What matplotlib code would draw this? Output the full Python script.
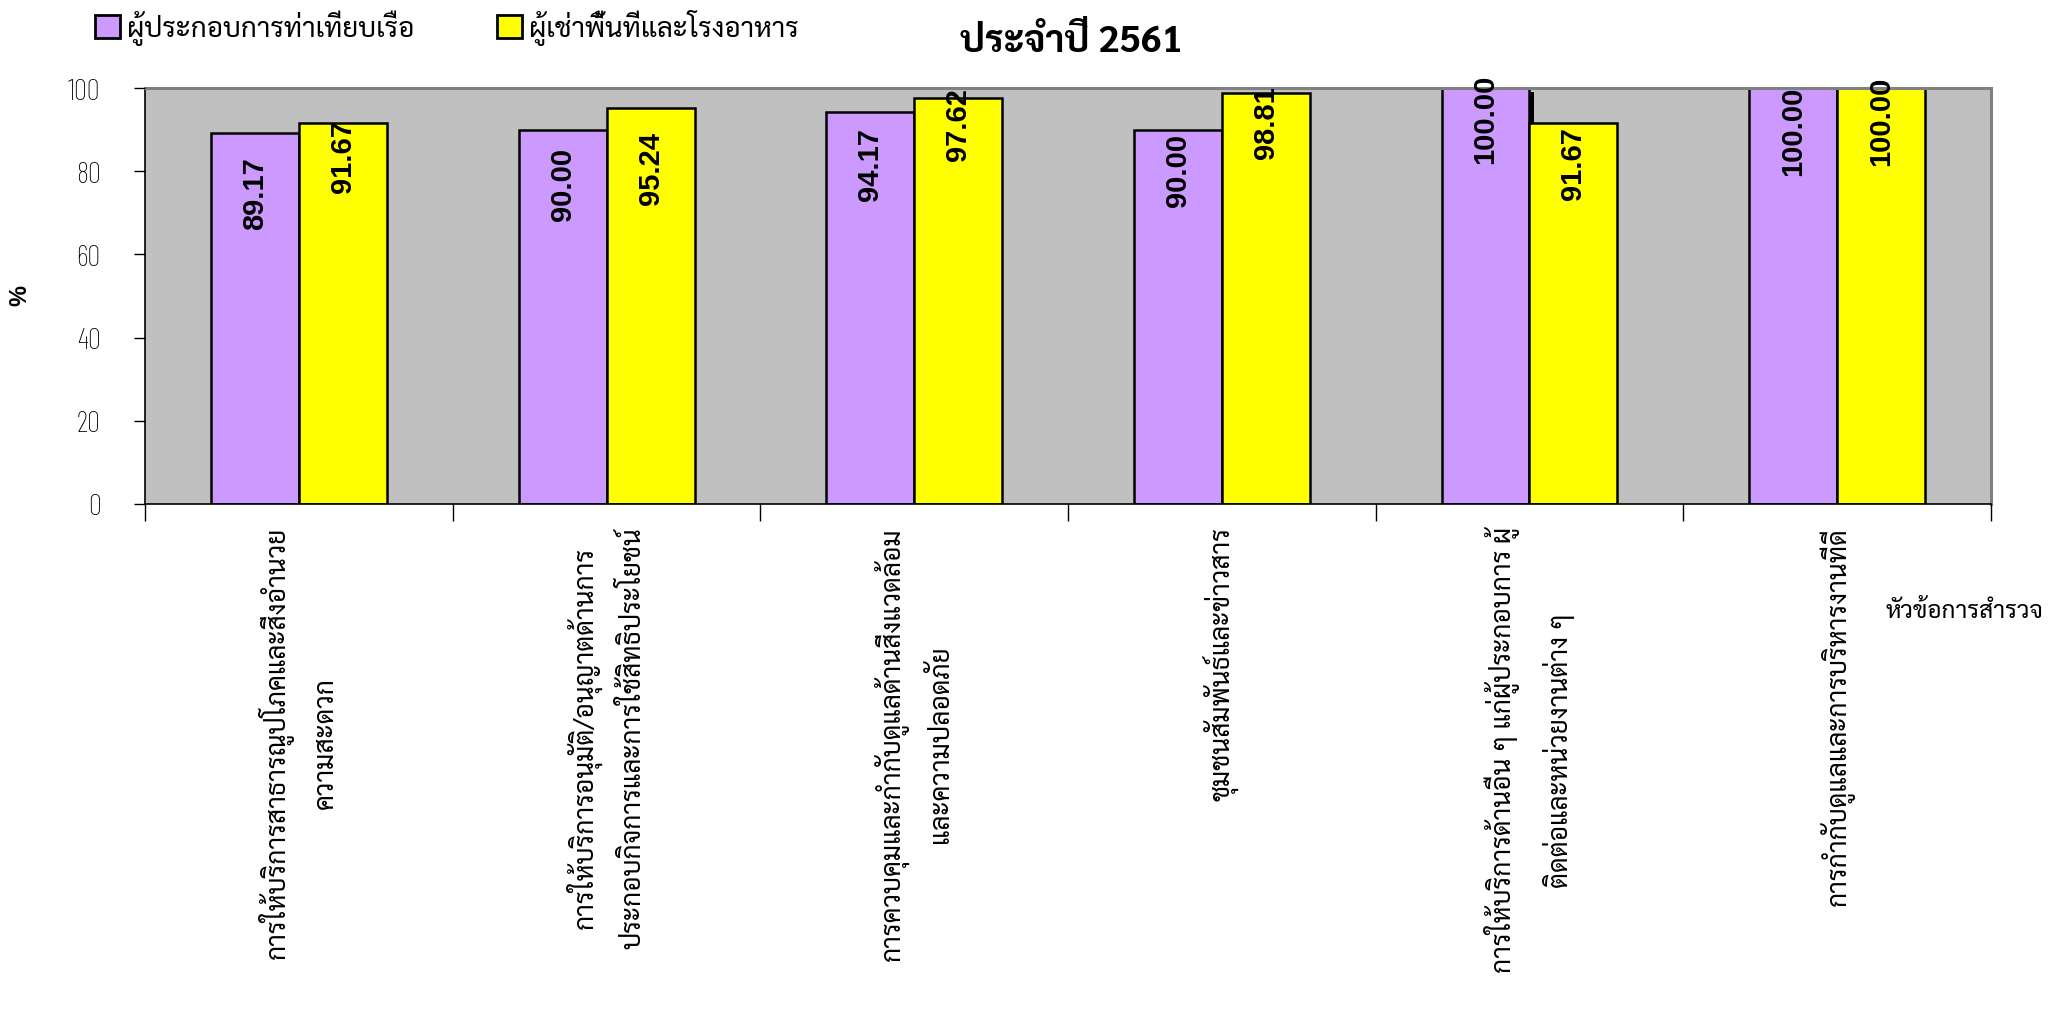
import matplotlib
matplotlib.use('Agg')
import matplotlib.pyplot as plt
import matplotlib.patheffects as pe
from matplotlib.patches import Patch
import numpy as np

# data
categories = ['การให้บริการสาธารณูปโภคและสิ่งอำนวย\nความสะดวก',
              'การให้บริการอนุมัติ/อนุญาตด้านการ\nประกอบกิจการและการใช้สิทธิประโยชน์',
              'การควบคุมและกำกับดูแลด้านสิ่งแวดล้อม\nและความปลอดภัย',
              'ชุมชนสัมพันธ์และข่าวสาร',
              'การให้บริการด้านอื่น ๆ แก่ผู้ประกอบการ ผู้\nติดต่อและหน่วยงานต่าง ๆ',
              'การกำกับดูแลและการบริหารงานที่ดี']
series_names = ['ผู้ประกอบการท่าเทียบเรือ', 'ผู้เช่าพื้นที่และโรงอาหาร']
pier = [89.17, 90.00, 94.17, 90.00, 100.00, 100.00]
tenant = [91.67, 95.24, 97.62, 98.81, 91.67, 100.00]
title = 'ประจำปี 2561'
xlabel = 'หัวข้อการสำรวจ'
ylabel = '%'

# where each value label sits relative to its bar top (px, + = above), as in the original
nudge_pier = [-23, -17, -15, -3, 14, 2]
nudge_tenant = [4, -23, 11, 8, -3, 12]

THAI = ['Sarabun', 'DejaVu Sans']
col_pier = '#CC99FF'
col_tenant = '#FFFF00'

fig = plt.figure(figsize=(20.6, 10.12), dpi=100)
ax = fig.add_axes([0.0704, 0.501, 0.8961, 0.411])
ax.set_facecolor('#C0C0C0')

x = np.arange(len(categories))
w = 0.286
b1 = ax.bar(x - w/2, pier, w, color=col_pier, edgecolor='black', linewidth=1.8)
b2 = ax.bar(x + w/2, tenant, w, color=col_tenant, edgecolor='black', linewidth=1.8)
# small drop shadow on the first series (shows only where it is taller)
shadow = [pe.SimplePatchShadow(offset=(3.5, -3), shadow_rgbFace='black', alpha=1.0), pe.Normal()]
for b in b1:
    b.set_path_effects(shadow)

# value labels, rotated, near the bar top
for bars, vals, nud in [(b1, pier, nudge_pier), (b2, tenant, nudge_tenant)]:
    for rect, v, n in zip(bars, vals, nud):
        ax.annotate(f'{v:.2f}', xy=(rect.get_x() + rect.get_width()/2, v),
                    xytext=(0, n * 0.72), textcoords='offset points',
                    rotation=90, ha='center', va='top',
                    fontsize=21, fontweight='bold', family='Liberation Sans')

ax.set_xlim(-0.5, len(categories) - 0.5)
ax.set_ylim(0, 100)
ax.set_yticks(np.arange(0, 101, 20))
ax.tick_params(axis='y', direction='out', length=8, width=1, pad=24,
               labelsize=21)
for lbl in ax.get_yticklabels():
    lbl.set_family('Barlow Condensed')
    lbl.set_fontweight('light')

# boundary ticks (major) and category labels (minor)
ax.set_xticks(np.arange(-0.5, len(categories), 1.0))
ax.set_xticklabels([])
ax.tick_params(axis='x', which='major', direction='out', length=12, width=1)
ax.set_xticks(x, minor=True)
ax.set_xticklabels(categories, minor=True, rotation=90)
ax.tick_params(axis='x', which='minor', length=0, pad=16)
for lbl in ax.get_xticklabels(minor=True):
    lbl.set_family(THAI)
    lbl.set_fontsize(19)
    lbl.set_multialignment('center')
    lbl.set_linespacing(1.9)

for s in ['top', 'right']:
    ax.spines[s].set_color('#808080')
    ax.spines[s].set_linewidth(2.2)
for s in ['left', 'bottom']:
    ax.spines[s].set_color('black')
    ax.spines[s].set_linewidth(1.2)
ax.set_axisbelow(False)

# legend along the top left
handles = [Patch(facecolor=col_pier, edgecolor='black', linewidth=2),
           Patch(facecolor=col_tenant, edgecolor='black', linewidth=2)]
fig.legend(handles, series_names, loc='upper left', bbox_to_anchor=(0.046, 0.99),
           ncol=2, frameon=False, prop={'family': THAI, 'size': 20},
           handlelength=0.9, handleheight=0.9, handletextpad=0.25,
           columnspacing=3.0, borderaxespad=0, borderpad=0)

fig.text(1071/2060, 1 - 43/1012, title, ha='center', va='center',
         fontsize=27, fontweight='bold', family=THAI)
fig.text(20/2060, 1 - 296/1012, ylabel, rotation=90, ha='center', va='center',
         fontsize=17, fontweight='bold', family='Liberation Sans')
fig.text(1886/2060, 1 - 612/1012, xlabel, ha='left', va='center',
         fontsize=17.5, family=THAI)

fig.savefig('out.png', dpi=100)
